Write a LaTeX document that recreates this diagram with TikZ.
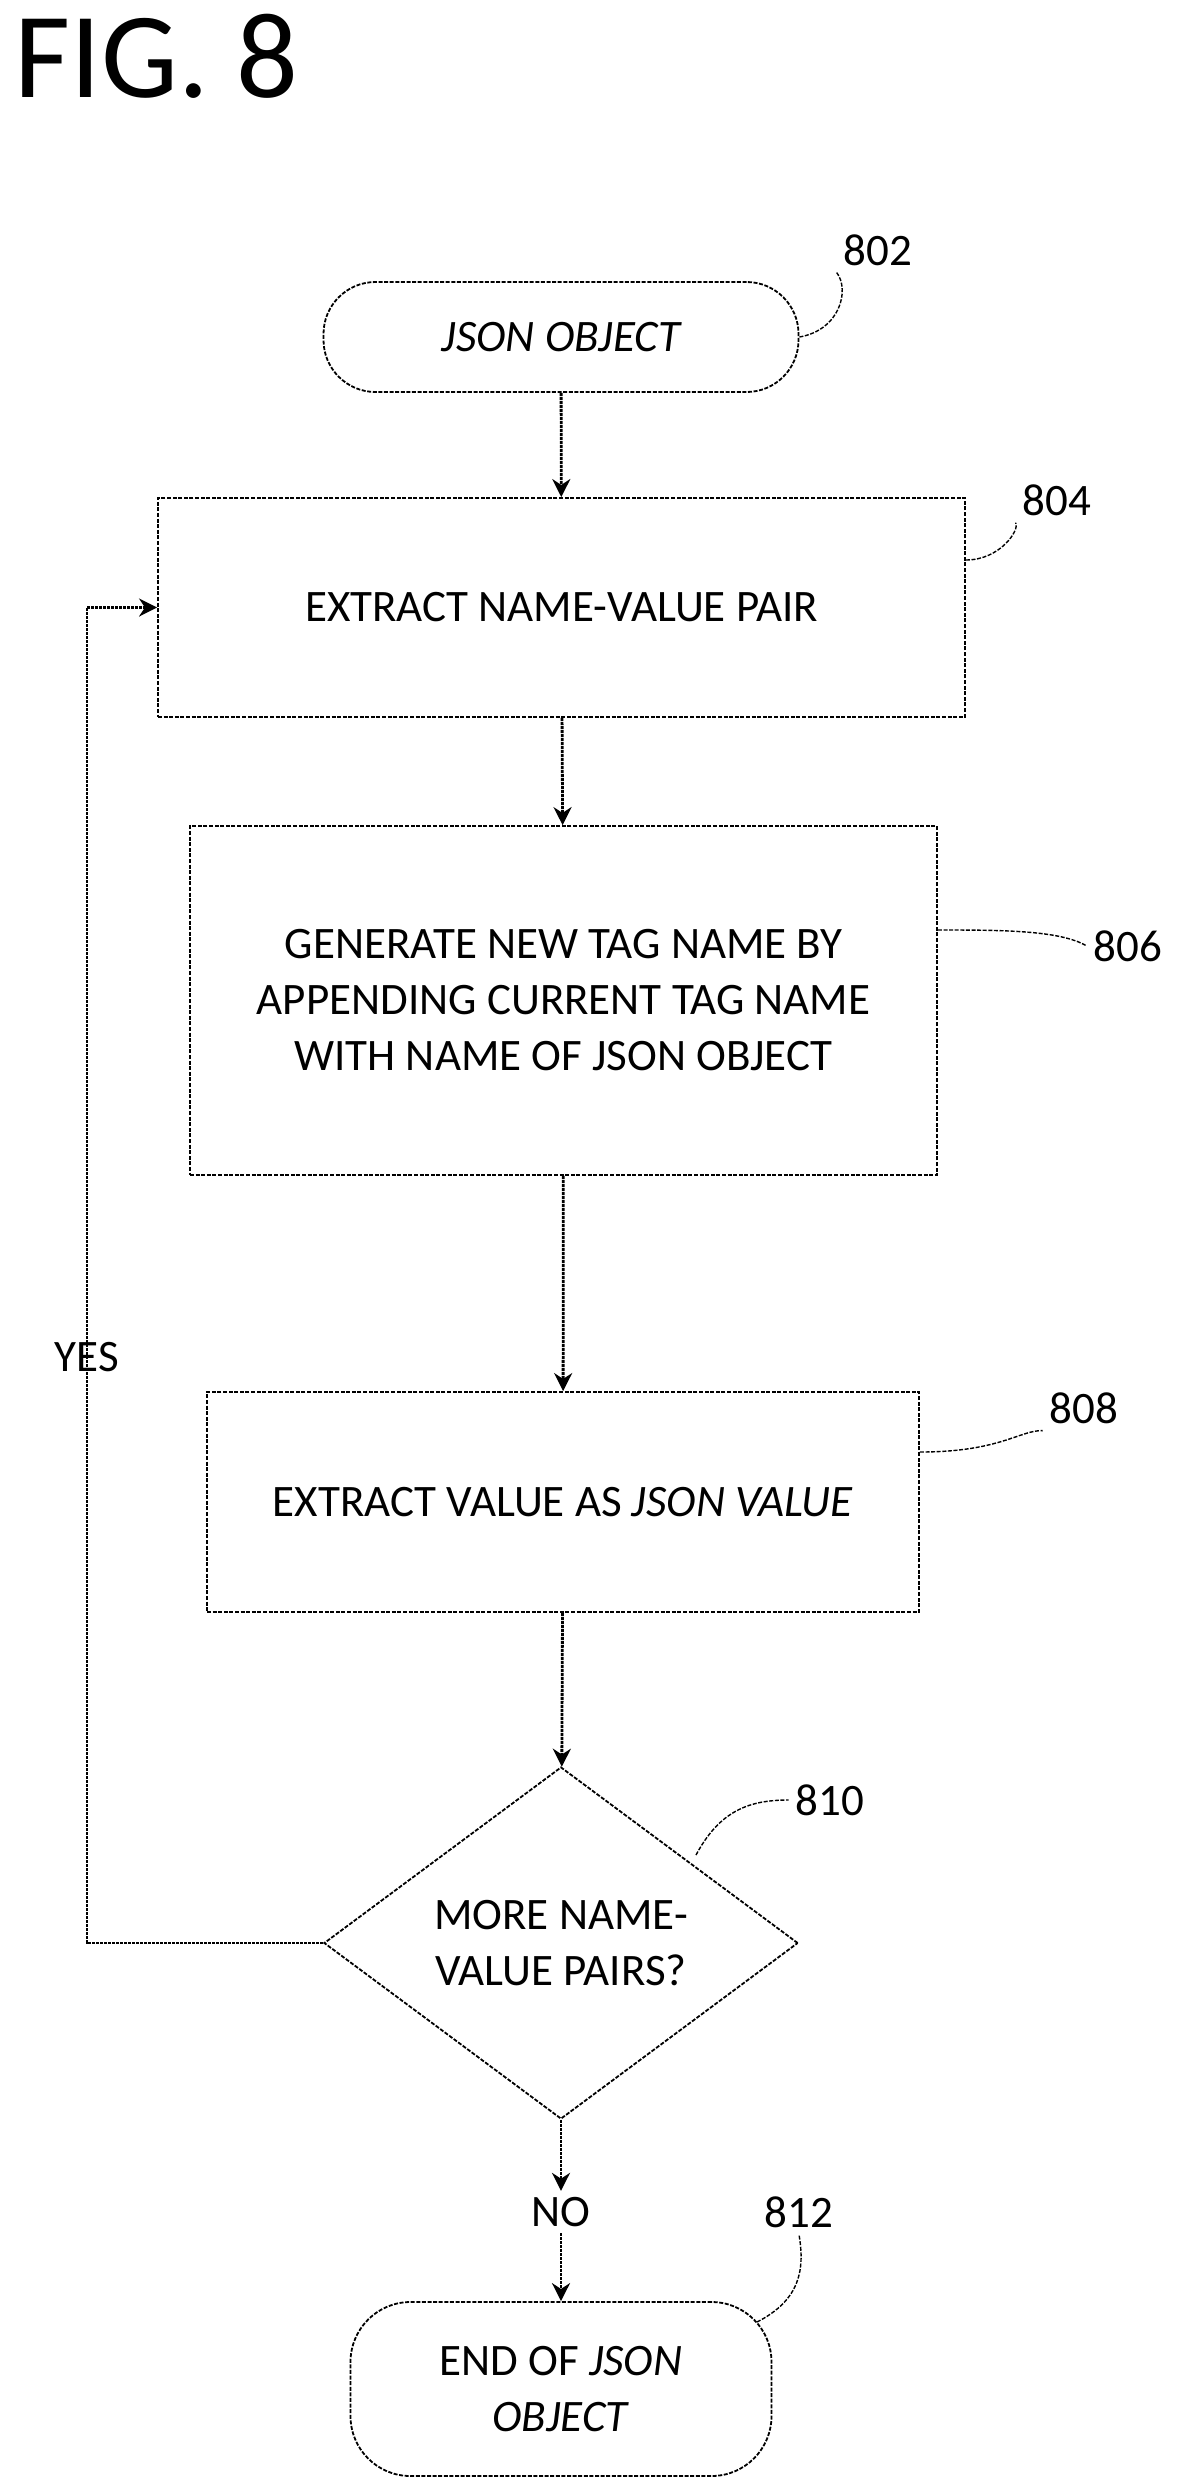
\documentclass[tikz,border=0pt]{standalone}
\usepackage{fontspec}
\setmainfont{Carlito}
\usetikzlibrary{shapes.geometric,arrows.meta}
\begin{document}
\begin{tikzpicture}[x=0.5pt,y=-0.5pt,
  box/.style={draw, dash pattern=on 2pt off 0.8pt, line width=0.9pt, rectangle, align=center, font=\fontsize{22.5}{28}\selectfont},
  term/.style={box, rounded corners=26pt},
  arr/.style={line width=1.4pt, dash pattern=on 1.5pt off 0.5pt, -{Stealth[length=9pt,width=9pt]}},
  lead/.style={line width=0.7pt, dash pattern=on 2pt off 0.8pt},
  lab/.style={font=\fontsize{22.5}{26}\selectfont}]
\useasboundingbox (0,0) rectangle (1183,2478);
\node[anchor=north west, inner sep=0, font=\fontsize{61}{64}\selectfont] (title) at (14,14) {FIG. 8};
\node[term, minimum width=237.5pt, minimum height=55pt] (n802) at (561,337) {\itshape JSON OBJECT};
\node[box, minimum width=403.5pt, minimum height=109.5pt] (n804) at (561.5,607.5) {EXTRACT NAME-VALUE PAIR};
\node[box, minimum width=373.5pt, minimum height=174.5pt] (n806) at (563.5,1000.5) {GENERATE NEW TAG NAME BY\\APPENDING CURRENT TAG NAME\\WITH NAME OF JSON OBJECT};
\node[box, minimum width=356pt, minimum height=110pt] (n808) at (563,1502) {EXTRACT VALUE AS \textit{JSON VALUE}};
\node[box, diamond, aspect=1.35, minimum width=237pt, minimum height=176pt, inner sep=0pt] (n810) at (561,1943) {MORE NAME-\\VALUE PAIRS?};
\node[term, minimum width=210.5pt, minimum height=87pt, rounded corners=30pt] (n812) at (561,2389) {END OF \textit{JSON}\\\textit{OBJECT}};
% labels
\node[lab] (l802) at (878,250) {802};
\node[lab] (l804) at (1057,500) {804};
\node[lab] (l806) at (1128,946) {806};
\node[lab] (l808) at (1084,1408) {808};
\node[lab] (l810) at (830,1800) {810};
\node[lab] (l812) at (799,2212) {812};
\node[lab] (yes) at (87,1357) {YES};
\node[lab, fill=white, inner sep=3pt] (no) at (561,2212) {NO};
\coordinate (c1) at (87,1943);
\coordinate (c2) at (87,607.5);
% arrows
\draw[arr] (n802) -- (n804);
\draw[arr] (n804) -- (n806);
\draw[arr] (n806) -- (n808);
\draw[arr] (n808) -- (n810);
\draw[arr] (n810.south) -- (no.north);
\draw[arr] (no.south) -- (n812.north);
\draw[arr] (n810.west) -- (c1) -- (c2) -- (n804.west);
% leaders
\draw[lead] (n802.east) .. controls (840,330) and (850,290) .. (l802.south west);
\draw[lead] (n804.east |- 0,560) .. controls (1000,560) and (1020,530) .. (l804.south west);
\draw[lead] (n806.east |- 0,930) .. controls (1000,930) and (1060,930) .. (l806.west);
\draw[lead] (n808.east |- 0,1452) .. controls (1000,1452) and (1020,1430) .. (l808.south west);
\draw[lead] (696,1855) .. controls (720,1810) and (750,1800) .. (l810.west);
\draw[lead] (757,2322) .. controls (800,2300) and (805,2270) .. (l812.south);
\end{tikzpicture}
\end{document}
